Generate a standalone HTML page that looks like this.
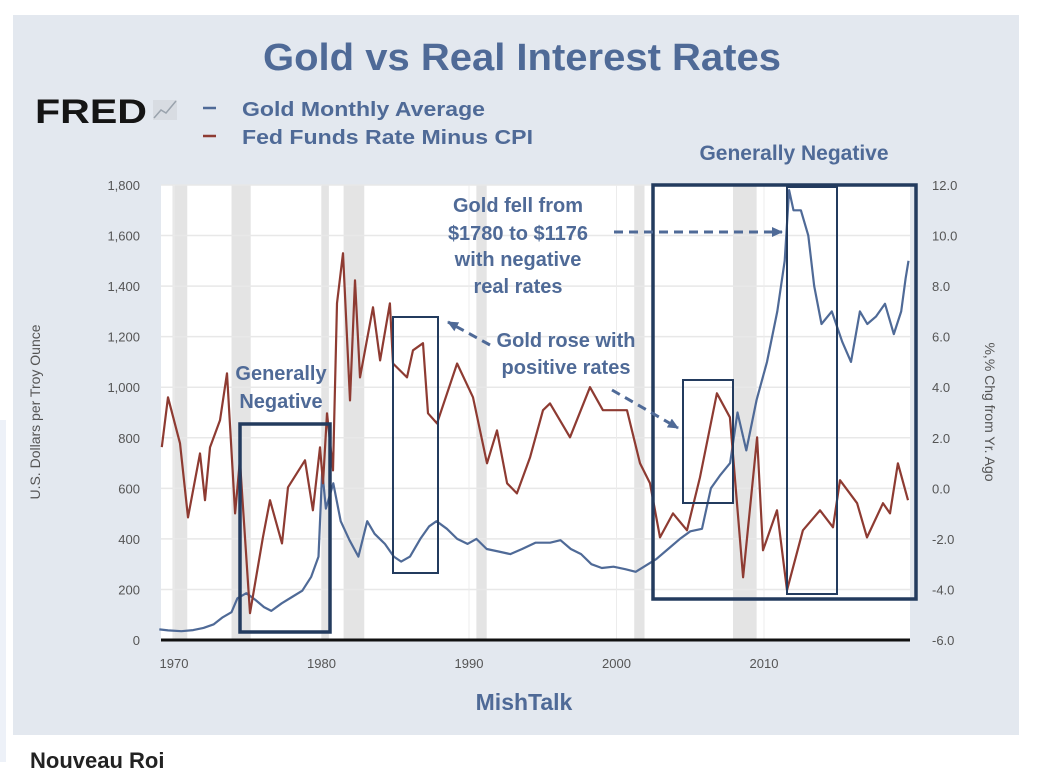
<!DOCTYPE html>
<html><head><meta charset="utf-8">
<style>
body{margin:0;width:1052px;height:762px;background:#fff;overflow:hidden;font-family:"Liberation Sans",Arial,sans-serif;position:relative}
#panel{position:absolute;left:13px;top:15px;width:1006px;height:720px;background:#e3e8ef}
#strip{position:absolute;left:0;top:420px;width:6px;height:342px;background:#edf1f8}
#foot{position:absolute;left:30px;top:748px;font-weight:bold;font-size:22px;color:#222}
svg{position:absolute;left:0;top:0}
</style></head><body>
<div id="strip"></div>
<div id="panel"></div>
<div id="foot">Nouveau Roi</div>
<svg id="chart" width="1052" height="762" font-family="Liberation Sans, Arial, sans-serif">
<text x="263" y="70" textLength="518" lengthAdjust="spacingAndGlyphs" font-size="38" font-weight="bold" fill="#4f6a97">Gold vs Real Interest Rates</text>
<text x="35" y="123" textLength="112" lengthAdjust="spacingAndGlyphs" font-size="34" font-weight="900" fill="#151515">FRED</text>
<g><rect x="153" y="100" width="24" height="20" fill="#d8dce2"/><polyline points="154,118 161,110 166,113 176,101" fill="none" stroke="#9aa3ad" stroke-width="1.5"/></g>
<g><line x1="203" y1="108" x2="216" y2="108" stroke="#4f6a97" stroke-width="2.5"/><text x="242" y="116" textLength="243" lengthAdjust="spacingAndGlyphs" font-size="20" font-weight="bold" fill="#4f6a97">Gold Monthly Average</text></g>
<g><line x1="203" y1="136" x2="216" y2="136" stroke="#8e3b32" stroke-width="2.5"/><text x="242" y="144" textLength="291" lengthAdjust="spacingAndGlyphs" font-size="20" font-weight="bold" fill="#4f6a97">Fed Funds Rate Minus CPI</text></g>
<rect x="161" y="185" width="749" height="455" fill="#fff"/>
<g id="rec"></g><g id="grid"></g><g id="ticks"></g>
<line x1="161" y1="640" x2="910" y2="640" stroke="#111" stroke-width="3"/>
<g id="series"></g>
<text transform="translate(40,412) rotate(-90)" text-anchor="middle" font-size="14" fill="#555">U.S. Dollars per Troy Ounce</text>
<text transform="translate(985,412) rotate(90)" text-anchor="middle" font-size="14" fill="#555">%,% Chg from Yr. Ago</text>
<text x="524" y="710" text-anchor="middle" font-size="23" font-weight="bold" fill="#4f6a97">MishTalk</text>
<g fill="none" stroke="#233b5e">
<rect x="240" y="424" width="90" height="208" stroke-width="3.5"/>
<rect x="393" y="317" width="45" height="256" stroke-width="2"/>
<rect x="653" y="185" width="263" height="414" stroke-width="3.5"/>
<rect x="683" y="380" width="50" height="123" stroke-width="2"/>
<rect x="787" y="187" width="50" height="407" stroke-width="2"/>
</g>
<g font-size="20" font-weight="bold" fill="#4f6a97" text-anchor="middle">
<text><tspan x="518" y="212">Gold fell from</tspan><tspan x="518" y="240">$1780 to $1176</tspan><tspan x="518" y="266">with negative</tspan><tspan x="518" y="293">real rates</tspan></text>
<text><tspan x="566" y="347">Gold rose with</tspan><tspan x="566" y="374">positive rates</tspan></text>
<text><tspan x="281" y="380">Generally</tspan><tspan x="281" y="408">Negative</tspan></text>
<text x="794" y="160" font-size="21">Generally Negative</text>
</g>
<defs><marker id="ah" markerUnits="userSpaceOnUse" markerWidth="12" markerHeight="12" refX="10" refY="6" orient="auto"><path d="M0,1 L11,6 L0,11 z" fill="#4f6a97"/></marker></defs>
<g stroke="#4f6a97" stroke-width="3" stroke-dasharray="9,6" fill="none" marker-end="url(#ah)">
<line x1="614" y1="232" x2="782" y2="232"/>
<line x1="490" y1="345" x2="448" y2="322"/>
<line x1="612" y1="390" x2="678" y2="428"/>
</g>
</svg>
<script>
const leftTicks=[0,200,400,600,800,1000,1200,1400,1600,1800];
const rightTicks=[-6,-4,-2,0,2,4,6,8,10,12];
const xTicks=[1970,1980,1990,2000,2010];
const recessions=[[1969.9,1970.9],[1973.9,1975.2],[1980.0,1980.5],[1981.5,1982.9],[1990.5,1991.2],[2001.2,2001.9],[2007.9,2009.5]];
const goldYears=[1969.0,1969.6,1970.5,1971.3,1972.0,1972.7,1973.3,1973.9,1974.3,1974.9,1975.5,1976.1,1976.6,1977.3,1978.0,1978.7,1979.3,1979.8,1980.05,1980.3,1980.8,1981.3,1981.9,1982.5,1983.1,1983.6,1984.3,1984.9,1985.4,1986.0,1986.7,1987.3,1987.8,1988.5,1989.2,1989.9,1990.5,1991.2,1992.0,1992.8,1993.6,1994.5,1995.5,1996.2,1996.9,1997.6,1998.3,1999.0,1999.8,2000.6,2001.3,2002.0,2002.7,2003.5,2004.3,2005.0,2005.8,2006.4,2007.0,2007.7,2008.2,2008.8,2009.5,2010.2,2010.9,2011.4,2011.7,2012.0,2012.5,2013.0,2013.4,2013.9,2014.6,2015.3,2015.9,2016.5,2017.0,2017.6,2018.2,2018.8,2019.3,2019.6,2019.8];
const goldValues=[42,38,35,39,48,62,90,110,165,185,160,130,115,145,170,195,250,330,670,520,620,470,395,330,470,420,380,330,310,330,400,450,470,440,400,380,400,360,350,340,360,385,385,395,360,340,300,285,290,280,270,295,320,360,400,430,440,600,650,700,900,750,950,1100,1300,1500,1780,1700,1700,1600,1400,1250,1300,1180,1100,1300,1250,1280,1330,1210,1300,1430,1500];
const rateYears=[1969.17,1969.59,1970.41,1970.95,1971.76,1972.10,1972.44,1973.12,1973.59,1974.14,1974.47,1975.15,1976.03,1976.51,1977.32,1977.73,1978.88,1979.42,1979.90,1980.10,1980.37,1980.78,1981.05,1981.46,1981.93,1982.27,1982.61,1983.49,1983.97,1984.64,1984.85,1985.80,1986.20,1986.88,1987.22,1987.83,1989.19,1990.27,1991.22,1991.90,1992.58,1993.25,1994.14,1995.02,1995.49,1996.85,1998.20,1999.08,2000.71,2001.59,2002.27,2002.95,2003.83,2004.78,2005.66,2006.81,2007.69,2008.58,2009.53,2009.93,2010.88,2011.56,2012.64,2013.80,2014.68,2015.15,2016.31,2016.98,2018.07,2018.54,2019.08,2019.76];
const rateValues=[1.63,3.6,1.78,-1.15,1.38,-0.47,1.62,2.69,4.55,-0.99,1.11,-4.94,-1.94,-0.47,-2.18,0.04,1.11,-0.87,1.62,0.2,2.97,0.71,7.32,9.3,3.48,8.23,4.39,7.16,5.06,7.32,4.94,4.39,5.46,5.74,2.97,2.57,4.94,3.6,0.99,2.29,0.2,-0.2,1.23,3.09,3.36,2.02,4.0,3.09,3.09,0.99,0.2,-1.94,-0.99,-1.66,0.44,3.76,2.81,-3.52,2.02,-2.45,-0.87,-4.03,-1.66,-0.87,-1.54,0.32,-0.59,-1.94,-0.59,-0.99,0.99,-0.47];

const X=y=>174+(y-1970)*14.75;
const YL=v=>640-v*(455/1800);
const YR=v=>640-(v+6)*(455/18);
const NS='http://www.w3.org/2000/svg';
function mk(tag,parent){const e=document.createElementNS(NS,tag);document.getElementById(parent).appendChild(e);return e;}
recessions.forEach(r=>{const e=mk('rect','rec');


e.setAttribute('x',X(r[0]));e.setAttribute('y',185);e.setAttribute('width',X(r[1])-X(r[0]));e.setAttribute('height',455);e.setAttribute('fill','#e4e4e4');});
leftTicks.forEach(v=>{if(v>0){const g=mk('line','grid');


g.setAttribute('x1',161);g.setAttribute('x2',910);g.setAttribute('y1',YL(v));g.setAttribute('y2',YL(v));g.setAttribute('stroke','#e8e8e8');g.setAttribute('stroke-width','1.5');}
const t=mk('text','ticks');


t.setAttribute('x',140);t.setAttribute('y',YL(v)+5);t.setAttribute('text-anchor','end');t.setAttribute('font-size','13');t.setAttribute('fill','#555');t.textContent=v.toLocaleString('en-US');});
rightTicks.forEach(v=>{const t=mk('text','ticks');


t.setAttribute('x',932);t.setAttribute('y',YR(v)+5);t.setAttribute('font-size','13');t.setAttribute('fill','#555');t.textContent=v.toFixed(1);});
xTicks.forEach(v=>{const g=mk('line','grid');


g.setAttribute('x1',X(v));g.setAttribute('x2',X(v));g.setAttribute('y1',185);g.setAttribute('y2',640);g.setAttribute('stroke','#ececec');
const t=mk('text','ticks');


t.setAttribute('x',X(v));t.setAttribute('y',668);t.setAttribute('text-anchor','middle');t.setAttribute('font-size','13');t.setAttribute('fill','#555');t.textContent=v;});
function line(xs,ys,fy,col,name){const p=mk('polyline','series');


p.setAttribute('points',xs.map((x,i)=>X(x).toFixed(1)+','+fy(ys[i]).toFixed(1)).join(' '));p.setAttribute('fill','none');p.setAttribute('stroke',col);p.setAttribute('stroke-width','2.2');p.setAttribute('stroke-linejoin','round');}
line(goldYears,goldValues,YL,'#4f6a97','gold-line');
line(rateYears,rateValues,YR,'#8e3b32','real-rate-line');
</script>
</body></html>
